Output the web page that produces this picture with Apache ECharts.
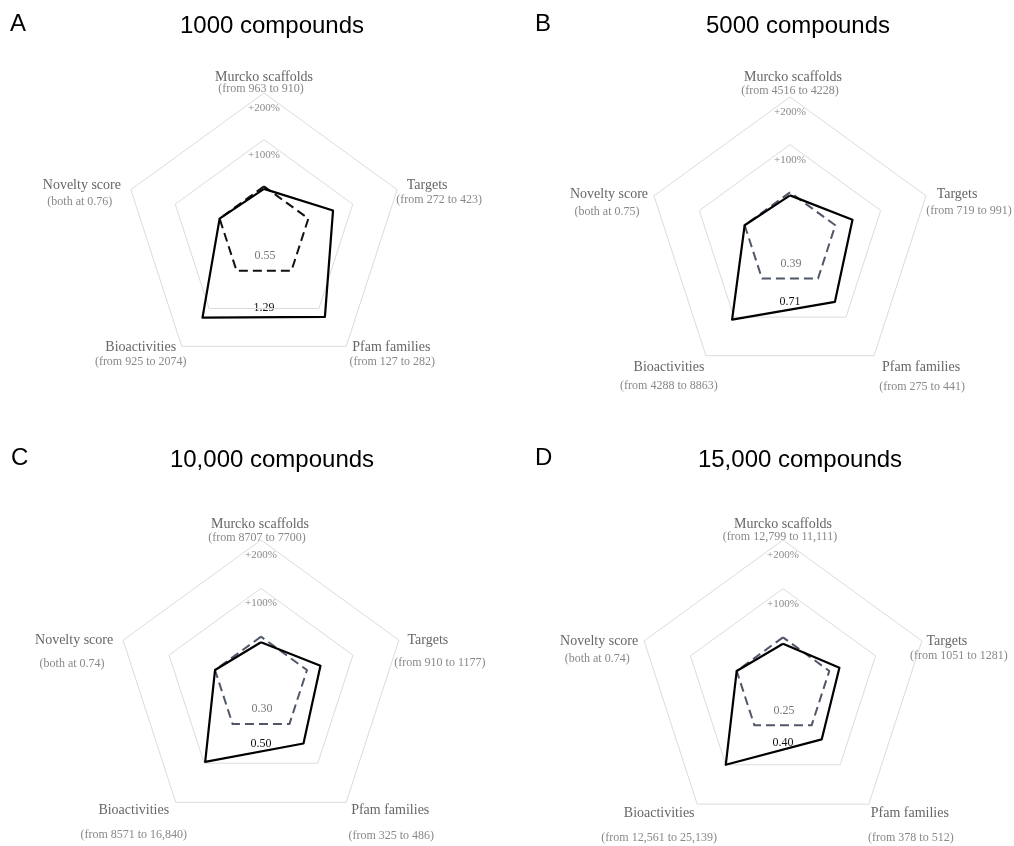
<!DOCTYPE html>
<html>
<head>
<meta charset="utf-8">
<script src="https://cdn.jsdelivr.net/npm/echarts@6/dist/echarts.min.js"></script>
<style>
  html, body { margin: 0; padding: 0; background: #fff; }
  #chart { width: 1014px; height: 846px; }
</style>
</head>
<body>
<div id="chart"></div>
<script>
// Axes, listed counter-clockwise from the top
const axisNames = ['Murcko scaffolds', 'Novelty score', 'Bioactivities', 'Pfam families', 'Targets'];

const panelLetters = ['A', 'B', 'C', 'D'];
const panelTitles = ['1000 compounds', '5000 compounds', '10,000 compounds', '15,000 compounds'];

// Values before and after, in axisNames order (novelty holds the score itself)
const before1000 = [963, 0.76, 925, 127, 272];
const after1000 = [910, 0.76, 2074, 282, 423];
const before5000 = [4516, 0.75, 4288, 275, 719];
const after5000 = [4228, 0.75, 8863, 441, 991];
const before10000 = [8707, 0.74, 8571, 325, 910];
const after10000 = [7700, 0.74, 16840, 486, 1177];
const before15000 = [12799, 0.74, 12561, 378, 1051];
const after15000 = [11111, 0.74, 25139, 512, 1281];

// Scores written inside the two polygons
const baselineScores = ['0.55', '0.39', '0.30', '0.25'];
const expandedScores = ['1.29', '0.71', '0.50', '0.40'];

// Ring labels: relative change at ratio 2 and 3
const ringValues = [2, 3];
const ringLabels = ['+100%', '+200%'];

const beforeSets = [before1000, before5000, before10000, before15000];
const afterSets = [after1000, after5000, after10000, after15000];

// Panel geometry and axis-name placement: [dx, name dy, sub-line dy] from the outer vertex
const layout = [
  { cx: 264, cy: 233, r: 140, dashColor: '#111111',
    names: [[0, -16, -4], [-49, -4, 12], [-41, 1, 16], [45, 1, 16], [30, -4, 10]],
    letter: [10, 26], title: [272, 26] },
  { cx: 790, cy: 240, r: 143, dashColor: '#4f5768',
    names: [[3, -20, -6], [-45, -1, 16], [-37, 12, 30], [47, 12, 31], [31, -1, 15]],
    letter: [535, 26], title: [798, 26] },
  { cx: 261, cy: 685, r: 145, dashColor: '#4f5768',
    names: [[-1, -16, -2], [-49, 0, 24], [-42, 8, 33], [44, 8, 34], [29, 0, 23]],
    letter: [11, 460], title: [272, 460] },
  { cx: 783, cy: 686, r: 146, dashColor: '#4f5768',
    names: [[0, -16, -3], [-45, 0, 18], [-38, 9, 34], [41, 9, 34], [25, 0, 15]],
    letter: [535, 460], title: [800, 460] }
];
// horizontal shift of the value line relative to the axis name
const subDx = [-3, -2, 0, 1, 12];

const RMAX = 3;

function fmtCount(v) {
  return v >= 10000 ? v.toLocaleString('en-US') : String(v);
}
function subLabel(k, b, a) {
  if (k === 1) return '(both at ' + b.toFixed(2) + ')';
  return '(from ' + fmtCount(b) + ' to ' + fmtCount(a) + ')';
}

const serif = '"Liberation Serif", "DejaVu Serif", serif';
const sans = '"Liberation Sans", Arial, sans-serif';

const radars = [];
const series = [];
const graphics = [];

layout.forEach((L, p) => {
  const before = beforeSets[p];
  const after = afterSets[p];
  const ratio = after.map((a, k) => a / before[k]);
  const base = before.map((b, k) => before[k] / b);

  radars.push({
    center: [L.cx, L.cy],
    radius: L.r,
    startAngle: 90,
    splitNumber: 3,
    shape: 'polygon',
    indicator: axisNames.map(n => ({ name: n, min: 0, max: RMAX })),
    axisName: { show: false },
    axisLine: { show: false },
    axisTick: { show: false },
    axisLabel: { show: false },
    splitArea: { show: false },
    splitLine: { lineStyle: { color: ['rgba(0,0,0,0)', 'rgba(0,0,0,0)', '#dcdcdc', '#dcdcdc'], width: 1 } }
  });

  series.push({
    type: 'radar', radarIndex: p, symbol: 'none', silent: true, z: 2,
    lineStyle: { color: L.dashColor, width: 2, type: [9, 5] },
    data: [{ value: base }]
  });
  series.push({
    type: 'radar', radarIndex: p, symbol: 'none', silent: true, z: 3,
    lineStyle: { color: '#000', width: 2.2, type: 'solid' },
    data: [{ value: ratio }]
  });

  // Panel letter and title
  graphics.push({ type: 'text', left: L.letter[0], top: L.letter[1] - 14,
    style: { text: panelLetters[p], font: '24px ' + sans, fill: '#000' } });
  graphics.push({ type: 'text', x: L.title[0], y: L.title[1],
    style: { text: panelTitles[p], font: '24px ' + sans, fill: '#000', align: 'center', verticalAlign: 'middle' } });

  // Axis names with their before/after values
  axisNames.forEach((name, k) => {
    const ang = Math.PI / 2 + k * 2 * Math.PI / axisNames.length;
    const vx = L.cx + L.r * Math.cos(ang);
    const vy = L.cy - L.r * Math.sin(ang);
    const [dx, dyName, dySub] = L.names[k];
    graphics.push({ type: 'text', x: vx + dx, y: vy + dyName,
      style: { text: name, font: '14px ' + serif, fill: '#666666', align: 'center', verticalAlign: 'middle' } });
    graphics.push({ type: 'text', x: vx + dx + subDx[k], y: vy + dySub,
      style: { text: subLabel(k, before[k], after[k]), font: '12px ' + serif, fill: '#888888', align: 'center', verticalAlign: 'middle' } });
  });

  // Ring labels just below the top of each ring
  ringValues.forEach((v, i) => {
    graphics.push({ type: 'text', x: L.cx, y: L.cy - L.r * v / RMAX + 15,
      style: { text: ringLabels[i], font: '11px ' + serif, fill: '#8a8a8a', align: 'center', verticalAlign: 'middle' } });
  });

  // Scores placed just above the bottom edge of each polygon
  const cos36 = Math.cos(Math.PI / 5);
  const baseEdge = L.cy + (L.r / RMAX) * cos36 * (base[2] + base[3]) / 2;
  const expEdge = L.cy + (L.r / RMAX) * cos36 * (ratio[2] + ratio[3]) / 2;
  graphics.push({ type: 'text', x: L.cx + 1, y: baseEdge - 15,
    style: { text: baselineScores[p], font: '12px ' + serif, fill: '#777', align: 'center', verticalAlign: 'middle' } });
  graphics.push({ type: 'text', x: L.cx, y: expEdge - 9,
    style: { text: expandedScores[p], font: '12px ' + serif, fill: '#111', align: 'center', verticalAlign: 'middle' } });
});

const chart = echarts.init(document.getElementById('chart'), null, { renderer: 'canvas' });
chart.setOption({
  backgroundColor: '#ffffff',
  animation: false,
  radar: radars,
  series: series,
  graphic: graphics
});
</script>
</body>
</html>
